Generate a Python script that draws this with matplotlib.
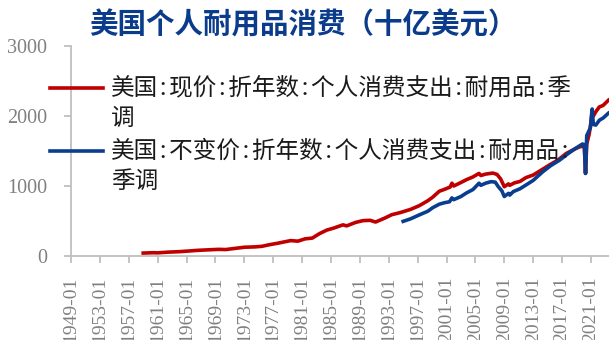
import matplotlib
matplotlib.use("Agg")
import matplotlib.pyplot as plt
from matplotlib.lines import Line2D

plt.rcParams['font.family'] = ['Noto Sans CJK SC', 'DejaVu Sans']

title = "美国个人耐用品消费（十亿美元）"
series_names = [
    ("美国:现价:折年数:个人消费支出:耐用品:季", "调"),
    ("美国:不变价:折年数:个人消费支出:耐用品:", "季调"),
]

# Nominal durable goods PCE, SAAR (billion USD)
nominal_dates = [
    "1959-01", "1960-06", "1961-01", "1962-06", "1964-01", "1965-06", "1966-06",
    "1968-01", "1969-06", "1970-06", "1971-06", "1973-01", "1974-06", "1975-06",
    "1976-06", "1977-10", "1979-06", "1980-06", "1981-06", "1982-06", "1983-06",
    "1984-06", "1985-06", "1986-09", "1987-03", "1988-06", "1989-06", "1990-06",
    "1991-03", "1992-06", "1993-06", "1994-08", "1996-01", "1997-04", "1998-06",
    "1999-02", "2000-01", "2000-09", "2001-07", "2001-10", "2002-01", "2003-01",
    "2003-10", "2004-09", "2005-07", "2005-10", "2006-06", "2007-06", "2008-01",
    "2008-07", "2009-01", "2009-08", "2009-10", "2010-06", "2011-03", "2012-01",
    "2013-01", "2014-01", "2015-04", "2016-06", "2017-08", "2018-06", "2019-06",
    "2020-02", "2020-04", "2020-06", "2020-10", "2021-01", "2021-03", "2021-05",
    "2021-09", "2022-03", "2022-09", "2023-06",
]
nominal_values = [
    42, 47, 45, 55, 62, 72, 80,
    88, 95, 92, 105, 125, 130, 138,
    160, 185, 220, 212, 245, 256, 320,
    370, 400, 445, 430, 480, 505, 510,
    485, 540, 590, 620, 665, 720, 790,
    840, 925, 950, 985, 1040, 1000, 1050,
    1090, 1130, 1180, 1150, 1170, 1185, 1165,
    1100, 990, 1030, 1010, 1045, 1065, 1120,
    1157, 1220, 1300, 1370, 1465, 1510, 1560,
    1570, 1180, 1600, 1740, 1900, 2080, 2000,
    2060, 2130, 2150, 2225,
]

# Real (constant-price) durable goods PCE, SAAR
real_dates = [
    "1995-01", "1996-01", "1997-04", "1998-06", "1999-02", "2000-01", "2000-09",
    "2001-06", "2001-10", "2002-01", "2003-01", "2003-10", "2004-09", "2005-07",
    "2005-10", "2006-06", "2007-03", "2007-10", "2008-03", "2008-09", "2009-01",
    "2009-08", "2009-10", "2010-04", "2011-03", "2012-01", "2013-01", "2014-05",
    "2015-06", "2016-09", "2017-09", "2018-10", "2019-11", "2020-02", "2020-04",
    "2020-06", "2020-12", "2021-03", "2021-05", "2021-09", "2022-03", "2022-09",
    "2023-06",
]
real_values = [
    495, 530, 588, 640, 690, 740, 760,
    775, 830, 805, 850, 900, 950, 1040,
    1010, 1040, 1062, 1055, 991, 930, 850,
    895, 870, 920, 960, 1014, 1080, 1204,
    1290, 1370, 1450, 1530, 1600, 1590, 1180,
    1720, 1830, 2100, 1880, 1870, 1940, 1970,
    2040,
]

tick_years = list(range(1949, 2022, 4))
tick_labels = [f"{y}-01" for y in tick_years]
y_ticks = [0, 1000, 2000, 3000]


def to_year(s):
    y, m = s.split("-")
    return int(y) + (int(m) - 1) / 12.0


RED = "#C00000"
BLUE = "#0A3D8F"
GRAY = "#BFBFBF"
LABEL = "#808080"

fig = plt.figure(figsize=(6.09, 3.40), dpi=100)
W, H = 609, 340
ax = fig.add_axes([71 / W, 1 - 256 / H, (609 - 71) / W, (256 - 46) / H])

ax.plot([to_year(d) for d in nominal_dates], nominal_values,
        color=RED, lw=2.6, solid_joinstyle="round", zorder=3)
ax.plot([to_year(d) for d in real_dates], real_values,
        color=BLUE, lw=2.6, solid_joinstyle="round", zorder=4)

ax.set_xlim(1949.0, 2023.5)
ax.set_ylim(0, 3000)

for side in ("top", "right"):
    ax.spines[side].set_visible(False)
for side in ("left", "bottom"):
    ax.spines[side].set_color(GRAY)
    ax.spines[side].set_linewidth(1.3)

ax.set_yticks(y_ticks)
ax.set_yticklabels([str(v) for v in y_ticks])
ax.set_xticks(tick_years)
ax.set_xticklabels(tick_labels, rotation=90)

ax.tick_params(axis="y", length=5, width=1.3, color=GRAY, pad=12,
               labelcolor=LABEL, labelsize=14.5)
ax.tick_params(axis="x", length=5, width=1.3, color=GRAY, pad=10,
               labelcolor=LABEL, labelsize=14)
for lab in ax.get_xticklabels() + ax.get_yticklabels():
    lab.set_family("Liberation Serif")

ax.patch.set_alpha(0)

# Title
fig.text(303 / W, 1 - 25 / H, title, ha="center", va="center",
         fontsize=20.5, fontweight="bold", color="#0B3C8C")

# Legend drawn by hand in figure pixel space; a half-width-punctuation
# CJK face keeps the colons at half an em
legend_font = ["Noto Sans Mono CJK SC", "Noto Sans CJK SC", "DejaVu Sans"]
legend_rows = [(88, RED), (151, BLUE)]
for (ypix, col), (line1, line2) in zip(legend_rows, series_names):
    yf = 1 - ypix / H
    fig.add_artist(Line2D([50 / W, 103 / W], [yf, yf], color=col, lw=2.6,
                          transform=fig.transFigure))
    fig.text(111 / W, yf, line1, ha="left", va="center", fontsize=17,
             family=legend_font, color="#1A1A1A", zorder=1)
    fig.text(111 / W, 1 - (ypix + 30) / H, line2, ha="left", va="center",
             fontsize=17, family=legend_font, color="#1A1A1A", zorder=1)

fig.savefig("out.png", dpi=100)
